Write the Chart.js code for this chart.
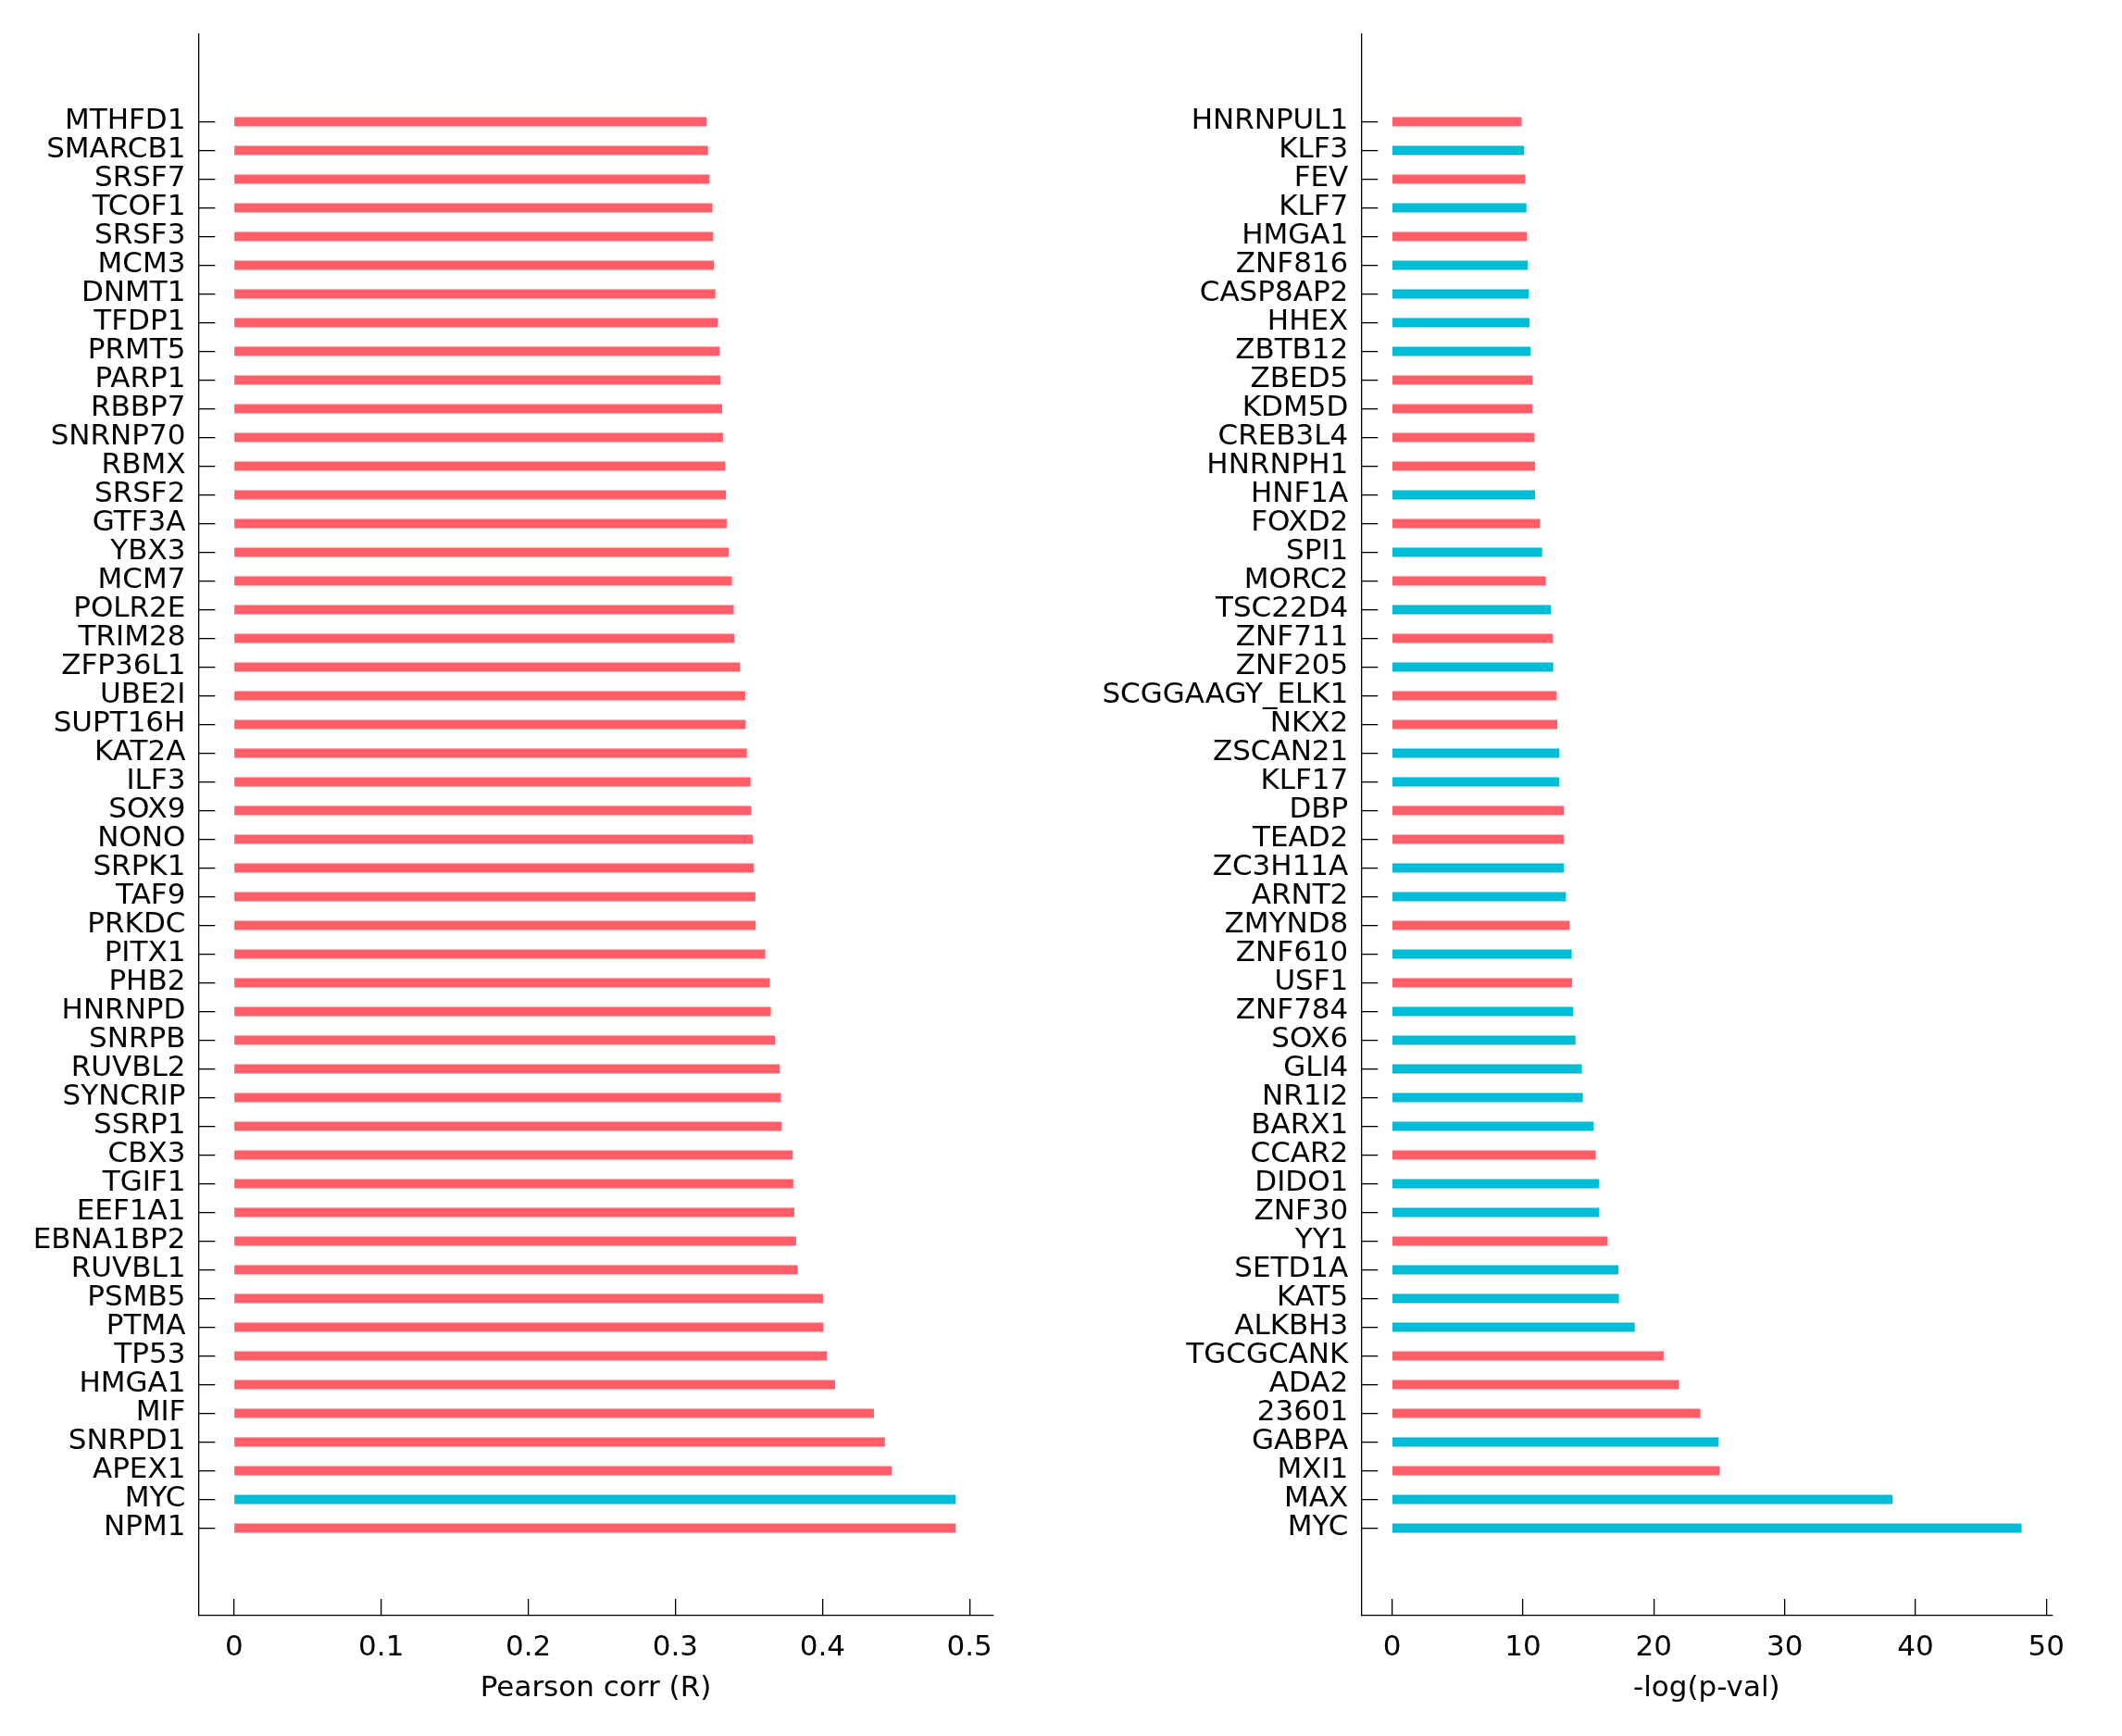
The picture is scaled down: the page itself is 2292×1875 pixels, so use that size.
<!DOCTYPE html>
<html>
<head>
<meta charset="utf-8">
<script src="https://cdn.jsdelivr.net/npm/chart.js@4.4.1/dist/chart.umd.min.js"></script>
<style>
  html, body { margin: 0; padding: 0; background: #ffffff; }
  #wrap { position: relative; width: 2292px; height: 1875px; background: #ffffff; }
  canvas { position: absolute; top: 0; }
  #c1 { left: 0; }
  #c2 { left: 1146px; }
</style>
</head>
<body>
<div id="wrap">
  <canvas id="c1" width="1146" height="1875"></canvas>
  <canvas id="c2" width="1146" height="1875"></canvas>
</div>
<script>
// ---------- DATA ----------
const pearsonGenes = ["MTHFD1","SMARCB1","SRSF7","TCOF1","SRSF3","MCM3","DNMT1","TFDP1","PRMT5","PARP1",
  "RBBP7","SNRNP70","RBMX","SRSF2","GTF3A","YBX3","MCM7","POLR2E","TRIM28","ZFP36L1",
  "UBE2I","SUPT16H","KAT2A","ILF3","SOX9","NONO","SRPK1","TAF9","PRKDC","PITX1",
  "PHB2","HNRNPD","SNRPB","RUVBL2","SYNCRIP","SSRP1","CBX3","TGIF1","EEF1A1","EBNA1BP2",
  "RUVBL1","PSMB5","PTMA","TP53","HMGA1","MIF","SNRPD1","APEX1","MYC","NPM1"];
const pearsonValues = [0.321,0.322,0.323,0.325,0.3255,0.326,0.327,0.3286,0.330,0.3305,
  0.3316,0.3322,0.3337,0.3343,0.3347,0.336,0.3383,0.3395,0.3398,0.3437,
  0.3473,0.3475,0.3484,0.3509,0.3515,0.3525,0.3532,0.3542,0.3544,0.3609,
  0.3639,0.3647,0.3675,0.3708,0.3716,0.3722,0.3796,0.380,0.3807,0.3819,
  0.383,0.4002,0.4004,0.4029,0.4084,0.4348,0.4423,0.4468,0.4904,0.4904];
const pearsonGroups = ["r","r","r","r","r","r","r","r","r","r",
  "r","r","r","r","r","r","r","r","r","r",
  "r","r","r","r","r","r","r","r","r","r",
  "r","r","r","r","r","r","r","r","r","r",
  "r","r","r","r","r","r","r","r","c","r"];

const motifNames = ["HNRNPUL1","KLF3","FEV","KLF7","HMGA1","ZNF816","CASP8AP2","HHEX","ZBTB12","ZBED5",
  "KDM5D","CREB3L4","HNRNPH1","HNF1A","FOXD2","SPI1","MORC2","TSC22D4","ZNF711","ZNF205",
  "SCGGAAGY_ELK1","NKX2","ZSCAN21","KLF17","DBP","TEAD2","ZC3H11A","ARNT2","ZMYND8","ZNF610",
  "USF1","ZNF784","SOX6","GLI4","NR1I2","BARX1","CCAR2","DIDO1","ZNF30","YY1",
  "SETD1A","KAT5","ALKBH3","TGCGCANK","ADA2","23601","GABPA","MXI1","MAX","MYC"];
const motifValues = [9.88,10.07,10.14,10.24,10.28,10.35,10.42,10.47,10.57,10.71,
  10.71,10.85,10.9,10.9,11.27,11.44,11.72,12.12,12.26,12.29,
  12.55,12.6,12.76,12.76,13.09,13.09,13.11,13.26,13.54,13.7,
  13.73,13.82,13.99,14.48,14.55,15.38,15.54,15.8,15.8,16.44,
  17.27,17.31,18.52,20.73,21.91,23.54,24.93,25.0,38.22,48.08];
const motifGroups = ["r","c","r","c","r","c","c","c","c","r",
  "r","r","r","c","r","c","r","c","r","c",
  "r","r","c","c","r","r","c","c","r","c",
  "r","c","c","c","c","c","r","c","c","r",
  "c","c","c","r","r","r","c","r","c","c"];

const pearsonTicks = [0, 0.1, 0.2, 0.3, 0.4, 0.5];
const pearsonTickLabels = ["0", "0.1", "0.2", "0.3", "0.4", "0.5"];
const pvalTicks = [0, 10, 20, 30, 40, 50];
const pvalTickLabels = ["0", "10", "20", "30", "40", "50"];

// ---------- STYLE ----------
const COLORS = { r: "#ff5e69", c: "#00bcd4" };
const FONT = { family: "'DejaVu Sans', sans-serif", size: 31 };
const AXIS_COLOR = "#000000";

function makeChart(canvasId, names, values, groups, xTicks, xLabels, xMin, xMax, title, yWidth, rightPad) {
  const ctx = document.getElementById(canvasId).getContext("2d");
  return new Chart(ctx, {
    type: "bar",
    data: {
      datasets: [{
        data: values.map((v, i) => ({ x: v, y: i })),
        backgroundColor: groups.map(g => COLORS[g]),
        borderWidth: 0,
        barThickness: 9.3
      }]
    },
    options: {
      indexAxis: "y",
      responsive: false,
      devicePixelRatio: 1,
      animation: false,
      layout: { padding: { left: 0, top: 37, right: rightPad, bottom: 0 } },
      plugins: { legend: { display: false }, tooltip: { enabled: false } },
      scales: {
        y: {
          type: "linear",
          reverse: true,
          offset: false,
          min: -3.045,
          max: 52.05,
          afterBuildTicks: (s) => { s.ticks = names.map((n, i) => ({ value: i })); },
          afterFit: (s) => { s.width = yWidth; s.paddingTop = 0; s.paddingBottom = 0; },
          ticks: {
            autoSkip: false,
            font: FONT,
            color: "#000000",
            padding: 32,
            callback: (v) => names[v]
          },
          grid: { display: true, offset: false, drawOnChartArea: false, drawTicks: true, tickLength: -18, color: AXIS_COLOR, lineWidth: 1.3 },
          border: { display: true, color: AXIS_COLOR, width: 1.3 }
        },
        x: {
          type: "linear",
          min: xMin,
          max: xMax,
          afterBuildTicks: (s) => { s.ticks = xTicks.map(v => ({ value: v })); },
          afterFit: (s) => { s.height = 130; s.paddingLeft = 0; s.paddingRight = 0; },
          ticks: {
            autoSkip: false,
            maxRotation: 0,
            font: FONT,
            color: "#000000",
            padding: 34,
            callback: (v, i) => xLabels[i]
          },
          grid: { display: true, drawOnChartArea: false, drawTicks: true, tickLength: -18, color: AXIS_COLOR, lineWidth: 1.3 },
          border: { display: true, color: AXIS_COLOR, width: 1.3 },
          title: { display: true, text: title, font: FONT, color: "#000000", padding: { top: 0, bottom: 32 } }
        }
      }
    }
  });
}

makeChart("c1", pearsonGenes, pearsonValues, pearsonGroups, pearsonTicks, pearsonTickLabels,
  -0.0242, 0.516, "Pearson corr (R)", 214.4, 1146 - 1072.6);
makeChart("c2", motifNames, motifValues, motifGroups, pvalTicks, pvalTickLabels,
  -2.36, 50.43, "-log(p-val)", 324.3, 2292 - 2216.4);
</script>
</body>
</html>
